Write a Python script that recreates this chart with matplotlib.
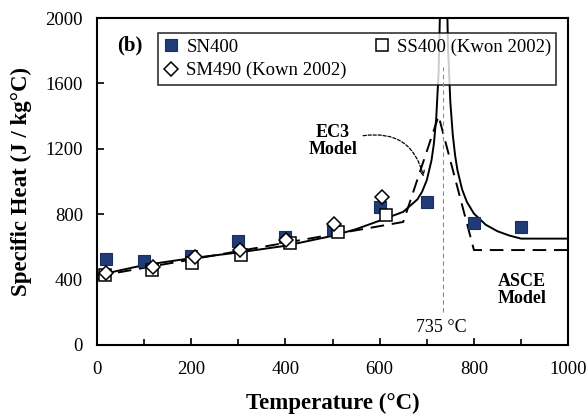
import matplotlib
matplotlib.use("Agg")
import matplotlib.pyplot as plt
from matplotlib.ticker import MultipleLocator

plt.rcParams['font.family'] = ['Liberation Serif', 'DejaVu Serif']

# measured specific heat (J/kg°C) vs temperature (°C)
sn400_T = [20, 100, 200, 300, 400, 500, 600, 700, 800, 900]
sn400_c = [524, 516, 544, 638, 662, 708, 846, 872, 744, 724]

ss400_T = [17, 116, 201, 305, 410, 512, 614]
ss400_c = [428, 455, 500, 547, 622, 689, 795]

sm490_T = [19, 120, 208, 304, 401, 504, 605]
sm490_c = [438, 479, 540, 581, 642, 738, 905]

# EC3 model curve
ec3_T = [0, 100, 200, 300, 400, 500, 550, 600, 650, 680, 690, 700, 710, 715,
         720, 725, 730, 740, 745, 750, 755, 760, 765, 775, 785, 800, 825, 850,
         875, 900, 1000]
ec3_c = [425, 488, 530, 565, 606, 667, 708, 760, 814, 890, 937, 1008, 1130, 1231,
         1388, 1666, 2291, 2525, 1818, 1483, 1288, 1160, 1069, 950, 875, 803, 735, 695,
         669, 650, 650]

# ASCE model curve
asce_T = [0, 650, 725, 800, 1000]
asce_c = [420, 752, 1401, 580, 580]

fig = plt.figure(figsize=(5.87, 4.2), dpi=100)
ax = fig.add_axes([0.165, 0.179, 0.803, 0.778])

ax.plot(ec3_T, ec3_c, color='black', lw=1.4, zorder=2)
ax.plot(asce_T, asce_c, color='black', lw=1.4, ls=(0, (7, 4)), zorder=2)

ax.plot(sn400_T, sn400_c, ls='none', marker='s', ms=9, mfc='#1F3C78',
        mec='#16305F', mew=0.8, label='SN400', zorder=3)
ax.plot(ss400_T, ss400_c, ls='none', marker='s', ms=8.5, mfc='white',
        mec='black', mew=1.1, label='SS400 (Kwon 2002)', zorder=4)
ax.plot(sm490_T, sm490_c, ls='none', marker='D', ms=7, mfc='white',
        mec='black', mew=1.1, label='SM490 (Kown 2002)', zorder=5)

# transition temperature marker
ax.plot([735, 735], [202, 1700], color='0.55', lw=0.8, ls=(0, (4, 3)), zorder=6)
ax.text(730, 104, '735 °C', fontsize=13, ha='center', va='center')

ax.annotate('', xy=(693, 1030), xytext=(565, 1280),
            arrowprops=dict(arrowstyle='->', color='black', lw=0.9, ls=(0, (2.5, 1.5)),
                            connectionstyle='arc3,rad=-0.45', shrinkA=0, shrinkB=0,
                            mutation_scale=8))
ax.text(501, 1250, 'EC3\nModel', fontsize=13, fontweight='bold',
        ha='center', va='center', linespacing=1.0)
ax.text(902, 336, 'ASCE\nModel', fontsize=13, fontweight='bold',
        ha='center', va='center', linespacing=1.0)
ax.text(0.07, 0.915, '(b)', transform=ax.transAxes, fontsize=15,
        fontweight='bold', ha='center', va='center')

handles, labels = ax.get_legend_handles_labels()
order = [0, 2, 1]
leg = ax.legend([handles[i] for i in order], [labels[i] for i in order],
                loc='lower left', bbox_to_anchor=(0.13, 0.795, 0.845, 0.174),
                mode='expand', ncol=2, fontsize=13.5, frameon=True, fancybox=False,
                handlelength=0.8, handletextpad=0.4, borderpad=0.3,
                labelspacing=0.35, columnspacing=1.0, borderaxespad=0)
leg.get_frame().set_edgecolor('black')
leg.get_frame().set_linewidth(1.2)
leg.set_zorder(5.5)

ax.set_xlim(0, 1000)
ax.set_ylim(0, 2000)
ax.xaxis.set_major_locator(MultipleLocator(200))
ax.xaxis.set_minor_locator(MultipleLocator(100))
ax.yaxis.set_major_locator(MultipleLocator(400))
ax.tick_params(which='both', direction='in', labelsize=13.5, width=1.2)
ax.tick_params(which='major', length=5)
ax.tick_params(which='minor', length=4)
ax.tick_params(axis='y', pad=10)
ax.tick_params(axis='x', pad=12)
for s in ax.spines.values():
    s.set_linewidth(1.5)

ax.set_xlabel('Temperature (°C)', fontsize=16.5, fontweight='bold', labelpad=10)
ax.set_ylabel('Specific Heat (J / kg°C)', fontsize=16.5, fontweight='bold', labelpad=10)

fig.savefig('out.png', dpi=100)
